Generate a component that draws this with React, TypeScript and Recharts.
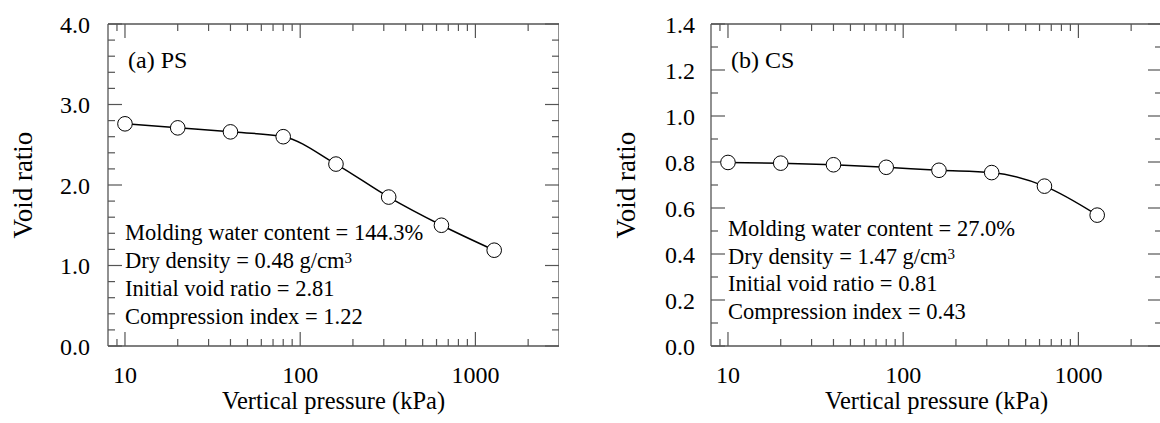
import React from 'react';
import { LineChart, Line, XAxis, YAxis, ReferenceLine } from 'recharts';

const PRESSURE = [10, 20, 40, 80, 160, 320, 640, 1280];
const PS_VOID = [2.76, 2.71, 2.66, 2.6, 2.26, 1.85, 1.5, 1.19];
const CS_VOID = [0.798, 0.795, 0.788, 0.777, 0.764, 0.754, 0.695, 0.569];

const X_MAJOR = [10, 100, 1000];
const X_MINOR = [9, 20, 30, 40, 50, 60, 70, 80, 90, 200, 300, 400, 500, 600, 700, 800, 900, 2000];

const PS_Y_MAJOR = [0, 1, 2, 3, 4];
const PS_Y_MINOR = [0.2, 0.4, 0.6, 0.8, 1.2, 1.4, 1.6, 1.8, 2.2, 2.4, 2.6, 2.8, 3.2, 3.4, 3.6, 3.8];
const CS_Y_MAJOR = [0, 0.2, 0.4, 0.6, 0.8, 1.0, 1.2, 1.4];
const CS_Y_MINOR = [0.1, 0.3, 0.5, 0.7, 0.9, 1.1, 1.3];

const PS_NOTES = ['Molding water content = 144.3%', 'Dry density = 0.48 g/cm', 'Initial void ratio = 2.81', 'Compression index = 1.22'];
const CS_NOTES = ['Molding water content = 27.0%', 'Dry density = 1.47 g/cm', 'Initial void ratio = 0.81', 'Compression index = 0.43'];

const FONT = '"Liberation Serif", "Times New Roman", serif';
const FRAME = '#555';
const PLOT_H = 322;

// tick lines only, no label
const NoTick = () => <g />;

interface PanelProps {
  left: number;
  width: number;
  yWidth: number;
  yTitleOffset: number;
  yTickMargin: number;
  values: number[];
  yMax: number;
  yMajor: number[];
  yMinor: number[];
  tag: string;
  notes: string[];
  noteTop: number;
  noteGap: number;
}

function Panel(p: PanelProps) {
  const data = PRESSURE.map((x, i) => ({ p: x, e: p.values[i] }));
  const tickFont = { fontFamily: FONT, fontSize: 24, fill: '#000' };
  const xProps = { dataKey: 'p', type: 'number' as const, scale: 'log' as const, domain: [8, 3000], allowDataOverflow: true };
  const yProps = { type: 'number' as const, domain: [0, p.yMax], allowDataOverflow: true };
  const inner = { tick: NoTick, interval: 0, tickLine: { stroke: FRAME, strokeWidth: 1.2 } };
  // top-edge tick length in data units (14px major, 7px minor)
  const major = (14 / PLOT_H) * p.yMax;
  const minor = (7 / PLOT_H) * p.yMax;
  return (
    <div style={{ position: 'absolute', left: p.left, top: 0, width: p.width, height: 423 }}>
      <LineChart width={p.width} height={423} data={data} margin={{ top: 24, right: 0, bottom: 0, left: 0 }}>
        <XAxis xAxisId="t" orientation="top" {...xProps} tick={NoTick} tickLine={false} mirror ticks={X_MAJOR} height={0.001} axisLine={{ stroke: FRAME, strokeWidth: 1.3 }} />
        <XAxis xAxisId="b" {...xProps} ticks={X_MAJOR} tickLine={false}
          axisLine={{ stroke: FRAME, strokeWidth: 1.3 }} height={77} tickSize={0} tickMargin={20} tick={tickFont}
          label={{ value: 'Vertical pressure (kPa)', position: 'insideBottom', offset: 14, style: { fontFamily: FONT, fontSize: 24.5, fill: '#000' } }} />
        <XAxis xAxisId="bMaj" {...xProps} {...inner} mirror ticks={X_MAJOR} height={0.001} axisLine={false} tickSize={14} />
        <XAxis xAxisId="bMin" {...xProps} {...inner} mirror ticks={X_MINOR} height={0.001} axisLine={false} tickSize={7} />

        <YAxis yAxisId="l" {...yProps} ticks={p.yMajor} tickLine={false} width={p.yWidth}
          axisLine={{ stroke: FRAME, strokeWidth: 1.3 }} tickSize={0} tickMargin={p.yTickMargin} tick={tickFont}
          tickFormatter={(v: number) => v.toFixed(1)}
          label={{ value: 'Void ratio', angle: -90, position: 'insideLeft', offset: p.yTitleOffset, style: { textAnchor: 'middle', fontFamily: FONT, fontSize: 27, fill: '#000' } }} />
        <YAxis yAxisId="lMaj" {...yProps} {...inner} mirror ticks={p.yMajor} width={0.001} axisLine={false} tickSize={14} />
        <YAxis yAxisId="lMin" {...yProps} {...inner} mirror ticks={p.yMinor} width={0.001} axisLine={false} tickSize={7} />
        <YAxis yAxisId="rMaj" orientation="right" {...yProps} {...inner} mirror ticks={p.yMajor} width={0.001} axisLine={{ stroke: FRAME, strokeWidth: 1.3 }} tickSize={14} />
        <YAxis yAxisId="rMin" orientation="right" {...yProps} {...inner} mirror ticks={p.yMinor} width={0.001} axisLine={false} tickSize={7} />

        {X_MAJOR.map((v) => (
          <ReferenceLine key={`tM${v}`} xAxisId="b" yAxisId="l" stroke={FRAME} strokeWidth={1.2}
            segment={[{ x: v, y: p.yMax }, { x: v, y: p.yMax - major }]} />
        ))}
        {X_MINOR.map((v) => (
          <ReferenceLine key={`tm${v}`} xAxisId="b" yAxisId="l" stroke={FRAME} strokeWidth={1.2}
            segment={[{ x: v, y: p.yMax }, { x: v, y: p.yMax - minor }]} />
        ))}

        <Line xAxisId="b" yAxisId="l" type="monotone" dataKey="e" stroke="#000" strokeWidth={1.5}
          dot={{ r: 7.3, fill: '#fff', stroke: '#000', strokeWidth: 1 }} isAnimationActive={false} />
      </LineChart>

      <div style={{ position: 'absolute', left: p.yWidth + 20, top: 46, fontFamily: FONT, fontSize: 24, lineHeight: '28px' }}>{p.tag}</div>
      {p.notes.map((t, i) => (
        <div key={t} style={{ position: 'absolute', left: p.yWidth + 17, top: p.noteTop + i * p.noteGap, fontFamily: FONT, fontSize: 22.5, lineHeight: '28px', whiteSpace: 'nowrap' }}>
          {t}
          {i === 1 && <sup style={{ fontSize: 15, verticalAlign: 'top', position: 'relative', top: -3 }}>3</sup>}
        </div>
      ))}
    </div>
  );
}

export default function App() {
  return (
    <div style={{ position: 'absolute', left: 0, top: 0, width: 1160, height: 423, overflow: 'hidden', background: '#fff' }}>
      <Panel left={0} width={559} yWidth={108} yTitleOffset={22} yTickMargin={18} values={PS_VOID} yMax={4}
        yMajor={PS_Y_MAJOR} yMinor={PS_Y_MINOR} tag="(a) PS" notes={PS_NOTES} noteTop={219} noteGap={28} />
      <Panel left={580} width={582} yWidth={131} yTitleOffset={45} yTickMargin={16} values={CS_VOID} yMax={1.4}
        yMajor={CS_Y_MAJOR} yMinor={CS_Y_MINOR} tag="(b) CS" notes={CS_NOTES} noteTop={215} noteGap={27.7} />
    </div>
  );
}
